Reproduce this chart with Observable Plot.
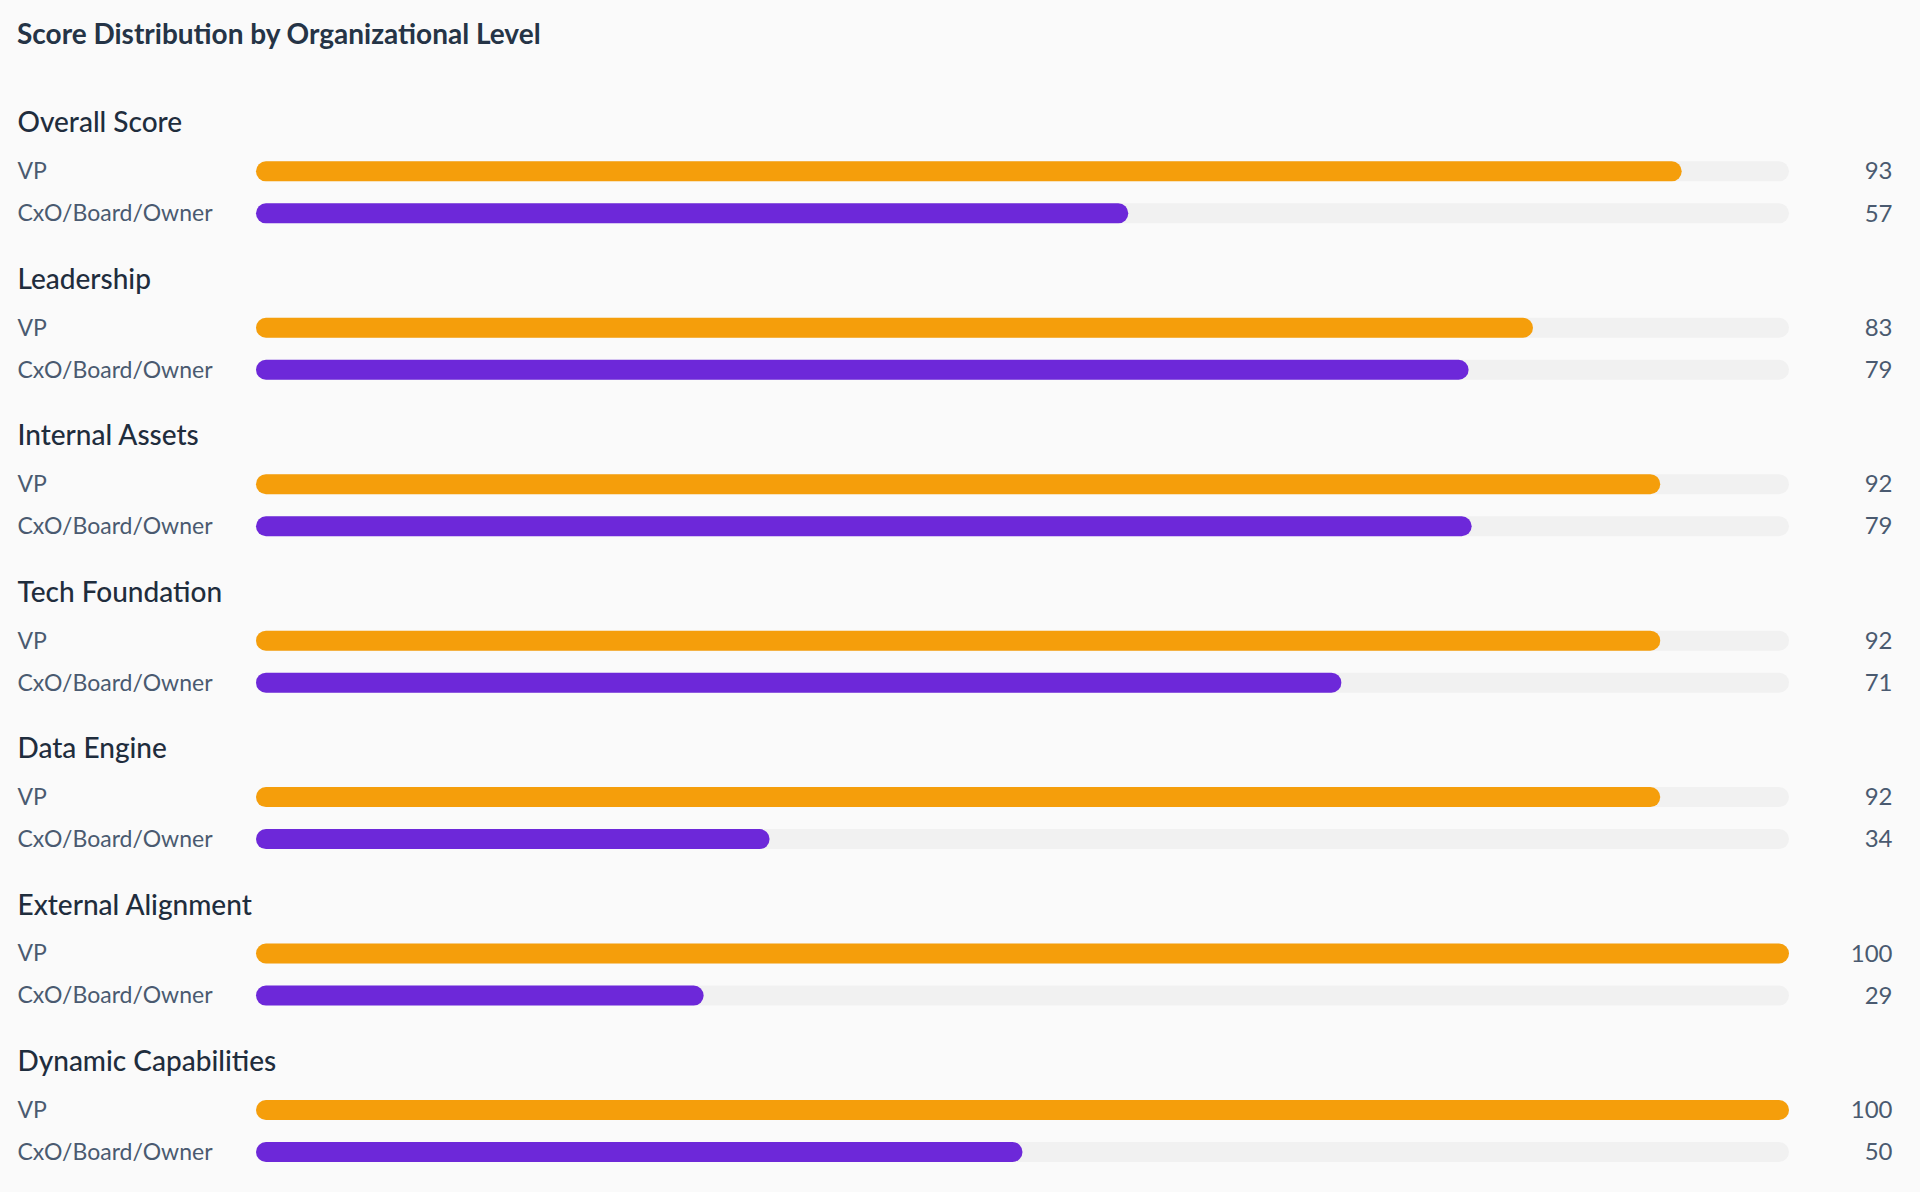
<!DOCTYPE html>
<html>
<head>
<meta charset="utf-8">
<script src="https://cdn.jsdelivr.net/npm/d3@7"></script>
<script src="https://cdn.jsdelivr.net/npm/@observablehq/plot@0.6"></script>
<style>
  html, body { margin: 0; padding: 0; background: #fafafa; overflow: hidden; }
  #title { height: 80px; line-height: 66px; padding-left: 17px; font-family: Lato, sans-serif; font-weight: 700; font-size: 28px; color: #253446; }
  #chart svg { display: block; }
</style>
</head>
<body>
<div id="title">Score Distribution by Organizational Level</div>
<div id="chart"></div>
<script>
const groups = ["Overall Score", "Leadership", "Internal Assets", "Tech Foundation", "Data Engine", "External Alignment", "Dynamic Capabilities"];
const levels = ["VP", "CxO/Board/Owner"];
const vpScores = [93, 83.3, 91.6, 91.6, 91.6, 100, 100];
const cxoScores = [56.9, 79.1, 79.3, 70.8, 33.5, 29.2, 50];
const levelColors = ["#F59E0B", "#6D28D9"];
const maxScore = 100;

const rows = [];
groups.forEach((g, i) => {
  rows.push({group: g, level: levels[0], value: vpScores[i]});
  rows.push({group: g, level: levels[1], value: cxoScores[i]});
});

const font = "Lato, sans-serif";
const chart = Plot.plot({
  width: 1920,
  height: 1112,
  marginLeft: 256,
  marginRight: 131,
  marginTop: 26,
  marginBottom: 30,
  style: {background: "transparent", fontFamily: font, overflow: "visible"},
  facet: {data: rows, y: "group"},
  fy: {domain: groups, paddingInner: 0.25, paddingOuter: 0, round: false, axis: null, label: null},
  x: {domain: [0, maxScore], axis: null},
  y: {domain: levels, paddingInner: 22 / 42, paddingOuter: 0.658, align: 1, round: false, axis: null, label: null},
  color: {domain: levels, range: levelColors},
  marks: [
    Plot.barX(rows, {x: () => maxScore, y: "level", fill: "#f1f1f1", rx: 10}),
    Plot.barX(rows, {x: "value", y: "level", fill: "level", rx: 10}),
    Plot.text(rows, Plot.selectFirst({text: "group", frameAnchor: "top-left", dx: -239, dy: 17, lineAnchor: "middle", textAnchor: "start", fontSize: 28, fontWeight: 500, fill: "#1f2d3d"})),
    Plot.text(rows, {y: "level", text: "level", frameAnchor: "left", dx: -239, textAnchor: "start", fontSize: 23, fill: "#4a5a70"}),
    Plot.text(rows, {y: "level", text: d => String(Math.round(d.value)), frameAnchor: "right", dx: 103, textAnchor: "end", fontSize: 24, fill: "#4a5a70"})
  ]
});
document.getElementById("chart").appendChild(chart);
</script>
</body>
</html>
